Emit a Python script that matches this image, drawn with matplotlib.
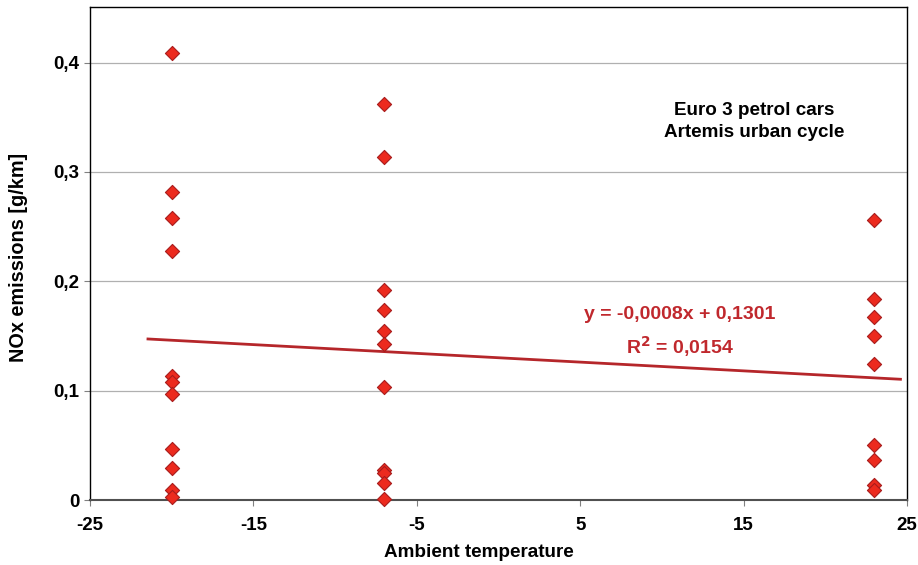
import matplotlib
matplotlib.use("Agg")
import matplotlib.pyplot as plt
from matplotlib.ticker import FuncFormatter
import numpy as np

plt.rcParams['font.family'] = ['Liberation Sans', 'DejaVu Sans']
plt.rcParams['axes.unicode_minus'] = False

temps_m20 = [-20] * 11
nox_m20 = [0.409, 0.282, 0.258, 0.228, 0.113, 0.108, 0.097, 0.047, 0.029, 0.009, 0.003]
temps_m7 = [-7] * 11
nox_m7 = [0.362, 0.314, 0.192, 0.174, 0.155, 0.143, 0.103, 0.027, 0.025, 0.016, 0.0005]
temps_p23 = [23] * 9
nox_p23 = [0.256, 0.184, 0.167, 0.150, 0.124, 0.050, 0.037, 0.014, 0.009]

temps = temps_m20 + temps_m7 + temps_p23
nox = nox_m20 + nox_m7 + nox_p23

slope = -0.0008
intercept = 0.1301
trend_x = [-21.45, 24.6]

fig = plt.figure(figsize=(9.18, 5.65), dpi=100)
ax = fig.add_axes([0.098, 0.115, 0.890, 0.873])

ax.set_xlim(-25, 25)
ax.set_ylim(0, 0.451)
ax.set_xticks([-25, -15, -5, 5, 15, 25])
ax.set_yticks([0, 0.1, 0.2, 0.3, 0.4])

def yfmt(v, pos):
    if abs(v) < 1e-9:
        return "0"
    return f"{v:.1f}".replace(".", ",")

def xfmt(v, pos):
    return f"{int(round(v))}"

ax.yaxis.set_major_formatter(FuncFormatter(yfmt))
ax.xaxis.set_major_formatter(FuncFormatter(xfmt))
ax.yaxis.grid(True, color="#b0b0b0", linewidth=0.9)
ax.set_axisbelow(True)

tx = np.array(trend_x)
ax.plot(tx, slope * tx + intercept, color="#b5262a", linewidth=2.0, zorder=2)

ax.scatter(temps, nox, marker="D", s=52, facecolor="#ec2a1e", edgecolor="#a81c1c",
           linewidth=0.8, zorder=3, clip_on=False)

for sp in ax.spines.values():
    sp.set_color("black")
    sp.set_linewidth(1.0)
ax.spines['bottom'].set_color("#505050")
ax.spines['bottom'].set_linewidth(1.5)

ax.tick_params(axis="both", direction="out", length=4, width=0.8, color="#808080",
               labelsize=13.5)
for lab in ax.get_xticklabels() + ax.get_yticklabels():
    lab.set_fontweight("bold")
ax.tick_params(axis="x", pad=8)

ax.set_xlabel("Ambient temperature", fontsize=13.6, fontweight="bold", va="center")
ax.xaxis.set_label_coords(0.4755, -0.1055)
ax.set_ylabel("NOx emissions [g/km]", fontsize=14.3, fontweight="bold", va="center")
ax.yaxis.set_label_coords(-0.0875, 0.491)

ax.text(15.64, 0.346, "Euro 3 petrol cars\nArtemis urban cycle", ha="center", va="center",
        fontsize=13.6, fontweight="bold", color="black", linespacing=1.35)

ax.text(11.1, 0.1695, "y = -0,0008x + 0,1301", ha="center", va="center",
        fontsize=14, fontweight="bold", color="#c0282d")
ax.text(11.1, 0.1405, "R$^{\\mathbf{2}}$ = 0,0154", ha="center", va="center",
        fontsize=14, fontweight="bold", color="#c0282d")

fig.savefig("out.png", dpi=100)
